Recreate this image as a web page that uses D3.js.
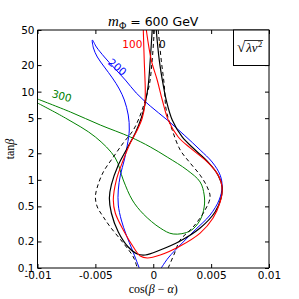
<!DOCTYPE html>
<html>
<head>
<meta charset="utf-8">
<script src="https://cdn.jsdelivr.net/npm/d3@7"></script>
<style>
  html, body { margin: 0; padding: 0; background: #fff; }
  svg { display: block; }
</style>
</head>
<body>
<svg id="chart" width="299" height="299"></svg>
<script>
// tick values / labels
const xTicks = [-0.01, -0.005, 0, 0.005, 0.01];
const xTickLabels = ["-0.01", "-0.005", "0", "0.005", "0.01"];
const yTicks = [0.1, 0.2, 0.5, 1, 2, 5, 10, 20, 50];
const yTickLabels = ["0.1", "0.2", "0.5", "1", "2", "5", "10", "20", "50"];

// contour lines, [cos(beta-alpha), tan(beta)]
const contour0 = [
  [0.00026, 50], [0.00052, 22.8], [0.00086, 11.9], [0.00112, 8.04], [0.00164, 4.77],
  [0.0025, 3.06], [0.00362, 2.18], [0.00474, 1.59], [0.0056, 1.13], [0.00595, 0.829],
  [0.00586, 0.622], [0.00534, 0.4315], [0.00405, 0.284], [0.00233, 0.2024], [0.0006, 0.16],
  [-0.00069, 0.1404], [-0.00138, 0.144], [-0.00216, 0.173], [-0.00302, 0.256], [-0.00362, 0.4205],
  [-0.00379, 0.622], [-0.00362, 0.874], [-0.00302, 1.47], [-0.00224, 2.30], [-0.00155, 3.40],
  [-0.00103, 5.02], [-0.00069, 7.43], [-0.00043, 11.9], [-0.00026, 22.8], [-0.00009, 50]
];
const contour0DashRight = [
  [0.00043, 50], [0.00069, 22.8], [0.00095, 11.9], [0.00112, 6.19], [0.00164, 3.67],
  [0.00233, 2.18], [0.00319, 1.55], [0.00405, 1.13], [0.00466, 0.829], [0.00491, 0.638],
  [0.00448, 0.455], [0.00345, 0.2917], [0.00233, 0.2078], [0.00181, 0.144], [0.00129, 0.1]
];
const contour0DashLeft = [
  [0.00009, 50], [-0.00009, 22.8], [-0.00034, 11.9], [-0.00069, 8.04], [-0.00112, 5.43],
  [-0.00172, 3.67], [-0.00259, 2.62], [-0.00345, 1.81], [-0.00431, 1.23], [-0.00483, 0.829],
  [-0.005, 0.638], [-0.00483, 0.492], [-0.00431, 0.379], [-0.00371, 0.2917], [-0.00259, 0.192],
  [-0.00172, 0.1333], [-0.00138, 0.1]
];
const contour100 = [
  [-0.0006, 50], [-0.00017, 22.8], [0.00034, 13.55], [0.00078, 8.04], [0.00129, 4.77],
  [0.00216, 3.06], [0.00319, 2.30], [0.00448, 1.68], [0.00543, 1.23], [0.00586, 0.945],
  [0.00595, 0.728], [0.00578, 0.56], [0.00517, 0.369], [0.00405, 0.249], [0.00233, 0.1777],
  [0.0006, 0.1404], [-0.00052, 0.13], [-0.00112, 0.1368], [-0.00172, 0.173], [-0.00259, 0.27],
  [-0.00328, 0.4205], [-0.00345, 0.59], [-0.00319, 0.995], [-0.00259, 1.68], [-0.00198, 2.62],
  [-0.00138, 3.67], [-0.00095, 5.02], [-0.00073, 7.06], [-0.00069, 10.4], [-0.00078, 22.8],
  [-0.00086, 50]
];
const contour200 = [
  [0.00069, 0.1], [0.00129, 0.13], [0.0025, 0.192], [0.00362, 0.27], [0.00491, 0.399],
  [0.00569, 0.59], [0.00595, 0.829], [0.00578, 1.13], [0.00509, 1.59], [0.00405, 2.18],
  [0.00267, 3.22], [0.00121, 4.77], [-0.00026, 6.87], [-0.00147, 9.65], [-0.00241, 13.55],
  [-0.00336, 18.5], [-0.00422, 24.7], [-0.00491, 32.1], [-0.00526, 38.5], [-0.00517, 31.3],
  [-0.00483, 24.7], [-0.00422, 19.0], [-0.00353, 14.3], [-0.00293, 10.7], [-0.0025, 8.04],
  [-0.00216, 5.43], [-0.00207, 3.67], [-0.00224, 2.48], [-0.0025, 1.68], [-0.00284, 1.13],
  [-0.00302, 0.767], [-0.00302, 0.518], [-0.00276, 0.35], [-0.00233, 0.2367], [-0.00181, 0.16],
  [-0.00121, 0.1]
];
const contour300 = [
  [-0.01, 8.25], [-0.00716, 5.88], [-0.00457, 4.18], [-0.00198, 3.06], [-0.00026, 2.36],
  [0.00121, 1.81], [0.00293, 1.29], [0.00405, 0.945], [0.0044, 0.673], [0.0044, 0.492],
  [0.00405, 0.35], [0.00319, 0.263], [0.00172, 0.243], [0.0006, 0.284], [-0.00086, 0.41],
  [-0.00181, 0.59], [-0.00259, 0.995], [-0.00328, 1.77], [-0.005, 3.06], [-0.00759, 5.02],
  [-0.01, 7.43]
];

const svg = d3.select("#chart");
const mLeft = 37.5, mRight = 269, mTop = 30, mBottom = 268;

// Scales
const xScale = d3.scaleLinear().domain([-0.01, 0.01]).range([mLeft, mRight]);
const yScale = d3.scaleLog().domain([0.1, 50]).range([mBottom, mTop]);

svg.append("defs").append("clipPath").attr("id", "plot-clip")
  .append("rect")
  .attr("x", mLeft).attr("y", mTop)
  .attr("width", mRight - mLeft).attr("height", mBottom - mTop);

const lineGenerator = d3.line()
  .x(d => xScale(d[0]))
  .y(d => yScale(d[1]))
  .curve(d3.curveCatmullRom.alpha(0.5));

const plot = svg.append("g").attr("clip-path", "url(#plot-clip)");

const lines = [
  { data: contour300, color: "#008000", width: 1, dash: null },
  { data: contour200, color: "#0000ff", width: 1, dash: null },
  { data: contour0DashLeft, color: "#000", width: 1, dash: "4,3" },
  { data: contour0DashRight, color: "#000", width: 1, dash: "4,3" },
  { data: contour0, color: "#000", width: 1.2, dash: null },
  { data: contour100, color: "#ff0000", width: 1.1, dash: null }
];

lines.forEach(l => {
  plot.append("path")
    .datum(l.data)
    .attr("d", lineGenerator)
    .attr("fill", "none")
    .attr("stroke", l.color)
    .attr("stroke-width", l.width)
    .attr("stroke-dasharray", l.dash);
});

// contour labels
const labelFont = "DejaVu Sans, sans-serif";
const contourLabels = [
  { text: "100", x: -0.00181, y: 34.7, color: "#ff0000", rot: 0 },
  { text: "0", x: 0.00078, y: 34.7, color: "#000", rot: 0 },
  { text: "200", x: -0.0031, y: 19.0, color: "#0000ff", rot: 40 },
  { text: "300", x: -0.0079, y: 8.92, color: "#008000", rot: 15 }
];
contourLabels.forEach(c => {
  const px = xScale(c.x), py = yScale(c.y);
  svg.append("text")
    .attr("transform", `translate(${px},${py}) rotate(${c.rot})`)
    .attr("text-anchor", "middle")
    .attr("dy", "0.36em")
    .attr("font-family", labelFont)
    .attr("font-size", 10.5)
    .attr("fill", c.color)
    .text(c.text);
});

// frame
const frame = svg.append("g").attr("stroke", "#000").attr("stroke-width", 1);
frame.append("line").attr("x1", mLeft).attr("x2", mLeft).attr("y1", mTop).attr("y2", mBottom);
frame.append("line").attr("x1", mRight).attr("x2", mRight).attr("y1", mTop).attr("y2", mBottom);
frame.append("line").attr("x1", mLeft).attr("x2", mRight).attr("y1", mTop).attr("y2", mTop);
frame.append("line").attr("x1", mLeft).attr("x2", mRight).attr("y1", mBottom).attr("y2", mBottom);

// Axis
const tickLen = 4;
const xAxisBottom = d3.axisBottom(xScale).tickValues(xTicks)
  .tickSize(-tickLen).tickPadding(4)
  .tickFormat((d, i) => xTickLabels[i]);
svg.append("g")
  .attr("transform", `translate(0,${mBottom})`)
  .call(xAxisBottom)
  .call(g => g.select(".domain").remove())
  .call(g => g.selectAll("text").attr("font-family", labelFont).attr("font-size", 10.5).attr("fill", "#000"));

svg.append("g")
  .attr("transform", `translate(0,${mTop})`)
  .call(d3.axisTop(xScale).tickValues(xTicks).tickSize(-tickLen).tickFormat(""))
  .call(g => g.select(".domain").remove());

const yAxisLeft = d3.axisLeft(yScale).tickValues(yTicks)
  .tickSize(-tickLen).tickPadding(3)
  .tickFormat((d, i) => yTickLabels[i]);
svg.append("g")
  .attr("transform", `translate(${mLeft},0)`)
  .call(yAxisLeft)
  .call(g => g.select(".domain").remove())
  .call(g => g.selectAll("text").attr("font-family", labelFont).attr("font-size", 10.5).attr("fill", "#000"));

svg.append("g")
  .attr("transform", `translate(${mRight},0)`)
  .call(d3.axisRight(yScale).tickValues(yTicks).tickSize(-tickLen).tickFormat(""))
  .call(g => g.select(".domain").remove());

// title
const serif = "Liberation Serif, DejaVu Serif, serif";
const title = svg.append("text")
  .attr("x", (mLeft + mRight) / 2)
  .attr("y", 26)
  .attr("text-anchor", "middle")
  .attr("font-family", labelFont)
  .attr("font-size", 12.5);
title.append("tspan").attr("font-family", serif).attr("font-style", "italic").attr("font-size", 15).text("m");
title.append("tspan").attr("font-family", serif).attr("font-size", 10).attr("dy", 2.5).text("Φ");
title.append("tspan").attr("dy", -2.5).text(" = 600 GeV");

// axis labels
const xLabel = svg.append("text")
  .attr("x", (mLeft + mRight) / 2)
  .attr("y", 293)
  .attr("text-anchor", "middle")
  .attr("font-family", serif)
  .attr("font-size", 12);
xLabel.append("tspan").text("cos(");
xLabel.append("tspan").attr("font-style", "italic").text("β");
xLabel.append("tspan").text(" − ");
xLabel.append("tspan").attr("font-style", "italic").text("α");
xLabel.append("tspan").text(")");

const yLabel = svg.append("text")
  .attr("transform", `translate(14,${(mTop + mBottom) / 2}) rotate(-90)`)
  .attr("text-anchor", "middle")
  .attr("font-family", serif)
  .attr("font-size", 12);
yLabel.append("tspan").text("tan");
yLabel.append("tspan").attr("font-style", "italic").text("β");

// legend box
const legendLeft = 233.5, legendBottom = 65.5;
svg.append("rect")
  .attr("x", legendLeft).attr("y", mTop)
  .attr("width", mRight - legendLeft).attr("height", legendBottom - mTop)
  .attr("fill", "#fff").attr("stroke", "#000").attr("stroke-width", 1);

const legX = 237;
const legText = svg.append("text")
  .attr("x", legX)
  .attr("y", 52)
  .attr("font-family", serif)
  .attr("font-size", 13);
legText.append("tspan").attr("font-size", 15).text("√");
legText.append("tspan").attr("font-style", "italic").attr("dx", 1).text("λv");
legText.append("tspan").attr("font-size", 9).attr("dy", -5).text("2");

const bb = legText.node().getBBox();
const rootW = legText.node().getSubStringLength(0, 1);
svg.append("line")
  .attr("x1", legX + rootW - 0.6).attr("x2", bb.x + bb.width + 1)
  .attr("y1", bb.y + 1.5).attr("y2", bb.y + 1.5)
  .attr("stroke", "#000").attr("stroke-width", 0.8);
</script>
</body>
</html>
